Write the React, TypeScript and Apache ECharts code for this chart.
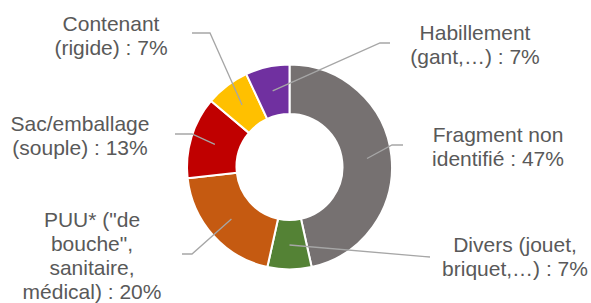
import React, { useEffect, useRef } from "react";
import * as echarts from "echarts";

const categories = [
  "Fragment non\nidentifié",
  "Divers (jouet,\nbriquet,…)",
  "PUU* (\"de\nbouche\",\nsanitaire,\nmédical)",
  "Sac/emballage\n(souple)",
  "Contenant\n(rigide)",
  "Habillement\n(gant,…)",
];
const values = [47, 7, 20, 13, 7, 7];
const colors = ["#767171", "#548235", "#C55A11", "#C00000", "#FFC000", "#7030A0"];

// layout (label centres and label-line elbows), not data
const CX = 289.5;
const CY = 167;
const labelPos = [
  [498, 146.5],
  [515, 256.5],
  [92, 255.5],
  [80, 135.5],
  [111, 35.5],
  [475, 44.5],
];
const elbows = [
  [[392, 145], [403, 145]],
  [[425, 256.6], [430, 257]],
  [[192, 254], [182, 254]],
  [[192, 134], [175, 134]],
  [[210, 33], [192, 33]],
  [[380, 43], [390, 43]],
];

export default function App() {
  const ref = useRef<HTMLDivElement>(null);
  useEffect(() => {
    if (!ref.current) return;
    const chart = echarts.init(ref.current, null, { renderer: "svg" });
    const total = values.reduce((a, b) => a + b, 0);
    const base = {
      type: "pie",
      center: [CX, CY],
      radius: [53, 102.5],
      startAngle: 90,
      clockwise: true,
      avoidLabelOverlap: false,
    };
    chart.setOption({
      animation: false,
      backgroundColor: "#ffffff",
      series: [
        {
          ...base,
          z: 2,
          itemStyle: { borderColor: "#ffffff", borderWidth: 2 },
          label: { show: false },
          labelLine: { show: false },
          data: categories.map((name, i) => ({
            name,
            value: values[i],
            itemStyle: { color: colors[i] },
          })),
        },
        {
          ...base,
          z: 5,
          silent: true,
          itemStyle: { color: "rgba(0,0,0,0)", borderWidth: 0 },
          label: {
            show: true,
            position: "outside",
            formatter: (p: any) => `${p.name} : ${p.value}%`,
            color: "#595959",
            fontSize: 21,
            lineHeight: 24,
            fontFamily: "'Liberation Sans', Arial, sans-serif",
            align: "center",
          },
          labelLine: {
            show: true,
            smooth: false,
            lineStyle: { color: "#A6A6A6", width: 1.3 },
          },
          labelLayout: (p: any) => {
            const i = p.dataIndex;
            let before = 0;
            for (let k = 0; k < i; k++) before += values[k];
            const mid = ((before + values[i] / 2) / total) * Math.PI * 2;
            const r = 78;
            const sx = CX + r * Math.sin(mid);
            const sy = CY - r * Math.cos(mid);
            return {
              x: labelPos[i][0],
              y: labelPos[i][1],
              align: "center",
              verticalAlign: "middle",
              labelLinePoints: [[sx, sy], ...elbows[i]],
            };
          },
          data: categories.map((name, i) => ({ name, value: values[i] })),
        },
      ],
    });
    return () => chart.dispose();
  }, []);
  return (
    <div
      ref={ref}
      style={{ position: "fixed", left: 0, top: 0, width: 591, height: 303 }}
    />
  );
}
